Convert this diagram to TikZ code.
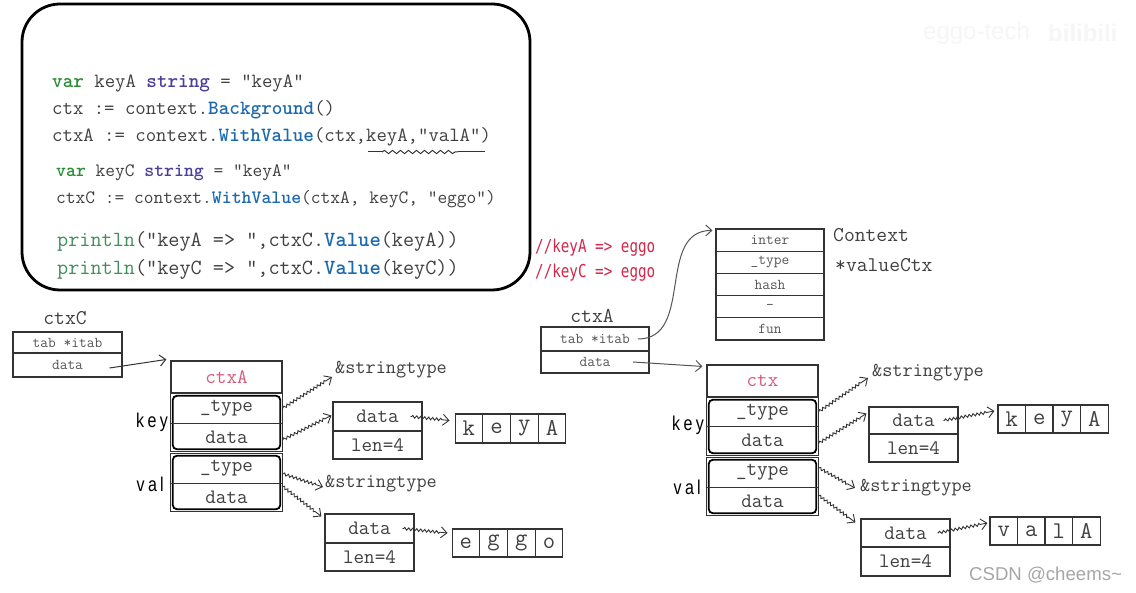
\documentclass[tikz,border=0pt]{standalone}
\usepackage{fontspec}
\usetikzlibrary{arrows.meta,decorations.pathmorphing,calc}
\setmainfont{Liberation Serif}
\newcommand\mono{\ttfamily}
\newfontfamily\redfont[FakeStretch=0.8]{DejaVu Sans Mono}
\newfontfamily\hand[FakeStretch=0.8]{Liberation Sans}
\newfontfamily\wmfont{Liberation Sans}
\definecolor{kwg}{HTML}{2A8C34}
\definecolor{typ}{HTML}{4A3F9A}
\definecolor{fnb}{HTML}{1C6AAE}
\definecolor{plg}{HTML}{3F8F5A}
\definecolor{codeg}{HTML}{404040}
\definecolor{redc}{HTML}{D3264A}
\definecolor{pinkc}{HTML}{D75A7A}
\definecolor{linec}{HTML}{333333}
\definecolor{txtg}{HTML}{555555}
\newcommand\kwv[1]{{\bfseries\color{kwg}#1}}
\newcommand\tys[1]{{\bfseries\color{typ}#1}}
\newcommand\fnc[1]{{\bfseries\color{fnb}#1}}
\newcommand\plc[1]{{\color{plg}#1}}
\tikzset{
  codeline/.style={anchor=west, inner sep=0pt, text=codeg},
  cell/.style={draw=linec, line width=1.1pt, inner sep=0pt, font=\mono\fontsize{15}{17}\selectfont, text=txtg, minimum width=108pt, minimum height=22pt},
  bigcell/.style={inner sep=0pt, font=\mono\fontsize{20.5}{23}\selectfont, text=codeg, minimum width=111pt},
  dcell/.style={draw=linec, line width=1.1pt, inner sep=0pt, font=\mono\fontsize{20.5}{23}\selectfont, text=codeg, minimum width=89pt},
  chr/.style={draw=linec, line width=1.1pt, inner sep=0pt, font=\mono\fontsize{24}{26}\selectfont, text=codeg, minimum width=27.6pt},
  lbl/.style={inner sep=0pt, font=\mono\fontsize{21}{23}\selectfont, text=codeg},
  slbl/.style={inner sep=0pt, anchor=west, font=\mono\fontsize{19.7}{21}\selectfont, text=codeg},
  hlbl/.style={inner sep=0pt, anchor=east, font=\hand\fontsize{20}{22}\selectfont, text=black},
  warr/.style={draw=linec, line width=0.9pt, decorate, decoration={snake, amplitude=1.3pt, segment length=4pt, post length=7pt, pre length=1pt}, -{Straight Barb[length=6pt,width=11pt]}},
  sarr/.style={draw=txtg, line width=1pt, -{Straight Barb[length=6pt,width=11pt]}},
  grp/.style={draw=linec, line width=0.8pt},
  grpin/.style={draw=black, line width=1.8pt, rounded corners=4pt}
}
\begin{document}
\begin{tikzpicture}[x=1pt,y=-1pt]
\useasboundingbox (0,0) rectangle (1136,593);
\fill[white] (0,0) rectangle (1136,593);

% watermark
\node[anchor=west, inner sep=0pt, text=gray!7, font=\wmfont\fontsize{24}{26}\selectfont] (wm1) at (923,33) {eggo-tech};
\node[anchor=west, inner sep=0pt, text=gray!7, font=\wmfont\bfseries\fontsize{24}{26}\selectfont] (wm2) at (1048,33) {bilibili};

% code box
\node[draw=black, line width=2.8pt, rounded corners=38pt, minimum width=508pt, minimum height=286pt, inner sep=0pt] (codebox) at (276,147) {};
\node[codeline, font=\mono\fontsize{20.2}{22}\selectfont] (l1) at (52,83) {\kwv{var} keyA \tys{string} = "keyA"};
\node[codeline, font=\mono\fontsize{20.2}{22}\selectfont] (l2) at (52,110) {ctx := context.\fnc{Background}()};
\node[codeline, font=\mono\fontsize{20.2}{22}\selectfont] (l3) at (52,137) {ctxA := context.\fnc{WithValue}(ctx,keyA,"valA")};
\node[codeline, font=\mono\fontsize{18.9}{21}\selectfont] (l4) at (56,173) {\kwv{var} keyC \tys{string} = "keyA"};
\node[codeline, font=\mono\fontsize{18.9}{21}\selectfont] (l5) at (56,199) {ctxC := context.\fnc{WithValue}(ctxA, keyC, "eggo")};
\node[codeline, font=\mono\fontsize{21.6}{24}\selectfont] (l6) at (57,241) {\plc{println}("keyA => ",ctxC.\fnc{Value}(keyA))};
\node[codeline, font=\mono\fontsize{21.6}{24}\selectfont] (l7) at (57,269) {\plc{println}("keyC => ",ctxC.\fnc{Value}(keyC))};
\coordinate (u1) at (368,152);
\coordinate (u2) at (382,152);
\coordinate (u3) at (458,152);
\coordinate (u4) at (485,152);
\draw[linec, line width=1pt] (u1) -- (u2);
\draw[linec, line width=1pt, decorate, decoration={snake, amplitude=1.6pt, segment length=8pt}] (u2) -- (u3);
\draw[linec, line width=1pt] (u3) -- (u4);

% red comments
\node[codeline, text=redc, font=\redfont\fontsize{17.8}{20}\selectfont] (r1) at (535,248) {//keyA => eggo};
\node[codeline, text=redc, font=\redfont\fontsize{17.8}{20}\selectfont] (r2) at (535,273) {//keyC => eggo};

% ctxC struct (left)
\node[lbl] (ctxClbl) at (65,318) {ctxC};
\node[cell, minimum width=109pt, minimum height=21pt] (cCt) at (67.5,342.5) {tab *itab};
\node[cell, minimum width=109pt, minimum height=24pt] (cCd) at (67.5,365) {data};

% ctxA struct (right)
\node[lbl] (ctxAlbl) at (592,316) {ctxA};
\node[cell, minimum height=24pt] (aT) at (595,339) {tab *itab};
\node[cell, minimum height=22pt] (aD) at (595,362) {data};

% interface box
\node[cell, minimum height=22.2pt] (i1) at (770,240.1) {inter};
\node[cell, minimum height=22.2pt] (i2) at (770,262.3) {\_type};
\node[cell, minimum height=22.2pt] (i3) at (770,284.5) {hash};
\node[cell, minimum height=22.2pt] (i4) at (770,306.7) {-};
\node[cell, minimum height=22.2pt] (i5) at (770,328.9) {fun};
\node[lbl, anchor=west] (ctxname) at (833,235) {Context};
\node[lbl, anchor=west] (vcname) at (835,265) {*valueCtx};

% left ctxA valueCtx
\node[bigcell, draw=linec, line width=1.1pt, minimum height=32pt, text=pinkc] (hA) at (226.5,377) {ctxA};
\node[bigcell, minimum height=29pt] (lk1) at (226.5,408.5) {\_type};
\node[bigcell, minimum height=28pt] (lk2) at (226.5,437) {data};
\node[bigcell, minimum height=29pt] (lv1) at (226.5,468.5) {\_type};
\node[bigcell, minimum height=28pt] (lv2) at (226.5,497) {data};
\draw[grp] (lk1.north west) rectangle (lk2.south east);
\draw[grpin] ([shift={(2,2)}]lk1.north west) rectangle ([shift={(-2,-2)}]lk2.south east);
\draw[grp] (lk1.south west) -- (lk1.south east);
\draw[grp] (lv1.north west) rectangle (lv2.south east);
\draw[grpin] ([shift={(2,2)}]lv1.north west) rectangle ([shift={(-2,-2)}]lv2.south east);
\draw[grp] (lv1.south west) -- (lv1.south east);
\node[hlbl] (lkey) at (168,422) {k\,e\,y};
\node[hlbl] (lval) at (164,484) {v\,a\,l};

% right ctx valueCtx
\node[bigcell, draw=linec, line width=1.1pt, minimum height=32pt, text=pinkc] (hC) at (762.5,381) {ctx};
\node[bigcell, minimum height=28pt] (rk1) at (762.5,412) {\_type};
\node[bigcell, minimum height=29pt] (rk2) at (762.5,440.5) {data};
\node[bigcell, minimum height=29pt] (rv1) at (762.5,472.5) {\_type};
\node[bigcell, minimum height=28pt] (rv2) at (762.5,501) {data};
\draw[grp] (rk1.north west) rectangle (rk2.south east);
\draw[grpin] ([shift={(2,2)}]rk1.north west) rectangle ([shift={(-2,-2)}]rk2.south east);
\draw[grp] (rk1.south west) -- (rk1.south east);
\draw[grp] (rv1.north west) rectangle (rv2.south east);
\draw[grpin] ([shift={(2,2)}]rv1.north west) rectangle ([shift={(-2,-2)}]rv2.south east);
\draw[grp] (rv1.south west) -- (rv1.south east);
\node[hlbl] (rkey) at (704,425) {k\,e\,y};
\node[hlbl] (rval) at (701,487) {v\,a\,l};

% stringtype labels
\node[slbl] (sA1) at (335,370) {\&stringtype};
\node[slbl] (sA2) at (325,484) {\&stringtype};
\node[slbl] (sB1) at (872,373) {\&stringtype};
\node[slbl] (sB2) at (860,488) {\&stringtype};

% data/len boxes
\node[dcell, minimum height=29pt] (dL1) at (377.5,416.5) {data};
\node[dcell, minimum height=28pt] (eL1) at (377.5,445) {len=4};
\node[dcell, minimum height=29pt] (dL2) at (369.5,528.5) {data};
\node[dcell, minimum height=28pt] (eL2) at (369.5,557) {len=4};
\node[dcell, minimum height=27pt] (dR1) at (913.5,420.5) {data};
\node[dcell, minimum height=28pt] (eR1) at (913.5,448) {len=4};
\node[dcell, minimum height=28pt] (dR2) at (905.5,533) {data};
\node[dcell, minimum height=29pt] (eR2) at (905.5,561.5) {len=4};

% char arrays
\foreach \c [count=\i] in {k,e,y,A} \node[chr, minimum height=29pt] (ka\i) at ({455+27.75*(\i-0.5)},428.5) {\c};
\foreach \c [count=\i] in {e,g,g,o} \node[chr, minimum height=28pt] (eg\i) at ({452+27.75*(\i-0.5)},543) {\c};
\foreach \c [count=\i] in {k,e,y,A} \node[chr, minimum height=28pt] (kb\i) at ({998+27.5*(\i-0.5)},419) {\c};
\foreach \c [count=\i] in {v,a,l,A} \node[chr, minimum height=28pt] (va\i) at ({990+27.5*(\i-0.5)},531) {\c};

% straight arrows
\draw[linec, line width=1pt, -{Straight Barb[length=6pt,width=11pt]}] ([shift={(42,3)}]cCd.center) -- ([shift={(-4,-1)}]hA.north west);
\draw[sarr] ([xshift=43]aT.center) to[out=0, in=180, looseness=1.1] ([shift={(-3,2)}]i1.north west);
\draw[sarr] ([xshift=38]aD.center) -- ([shift={(-4,2)}]hC.north west);

% wavy arrows left
\draw[warr] (lk1.east) -- ([shift={(-3,7)}]sA1.west);
\draw[warr] ([yshift=-3]lk2.east) -- ([shift={(-1,-1)}]dL1.west);
\draw[warr] ([xshift=33]dL1.center) -- ([shift={(-5,-8)}]ka1.west);
\draw[warr] ([yshift=-5]lv1.east) -- ([shift={(-2,3)}]sA2.west);
\draw[warr] ([yshift=11]lv2.east) -- ([shift={(-3,3)}]dL2.north west);
\draw[warr] ([xshift=33]dL2.center) -- ([shift={(-4,-10)}]eg1.west);
% wavy arrows right
\draw[warr] (rk1.east) -- ([shift={(-4,5)}]sB1.west);
\draw[warr] ([yshift=-3]rk2.east) -- ([shift={(-2,-7)}]dR1.west);
\draw[warr] ([xshift=30]dR1.center) -- ([shift={(-3,-8)}]kb1.west);
\draw[warr] ([yshift=5]rv1.east) -- ([shift={(-5,0)}]sB2.west);
\draw[warr] ([yshift=6]rv2.east) -- ([shift={(-5,4)}]dR2.north west);
\draw[warr] ([xshift=32]dR2.center) -- ([shift={(-2,-8)}]va1.west);

% csdn watermark
\node[anchor=west, inner sep=0pt, text=gray!70, font=\wmfont\fontsize{18.6}{20}\selectfont] (csdn) at (969,575) {CSDN @cheems\textasciitilde};
\end{tikzpicture}
\end{document}
